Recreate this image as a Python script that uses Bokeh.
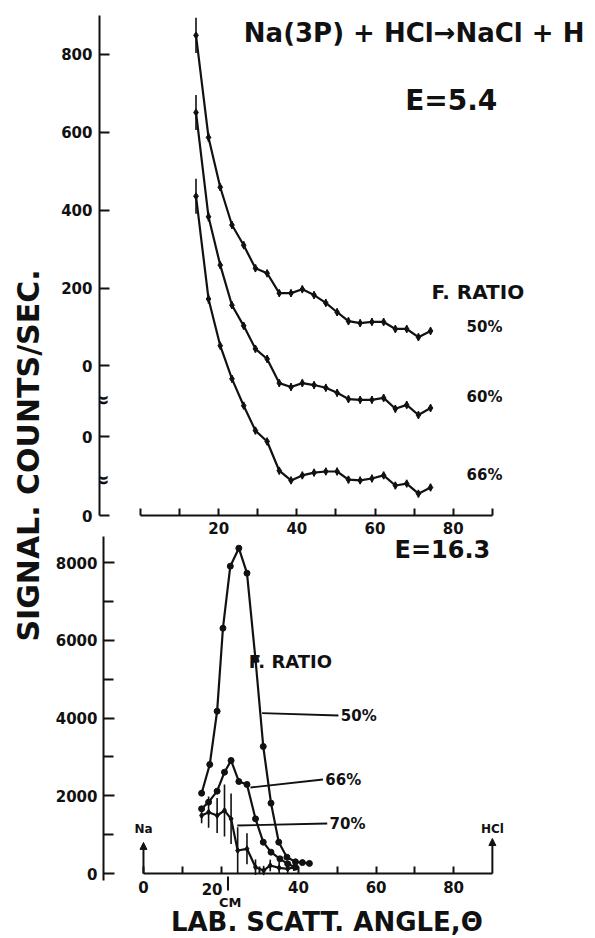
import math
from bokeh.plotting import figure
from bokeh.models import Range1d, FixedTicker, Label, Arrow, NormalHead
from bokeh.layouts import row, column
from bokeh.embed import file_html
from bokeh.resources import INLINE

FONT = "DejaVu Sans"
INK = "#111111"

# ---------------- top panel (E = 5.4) ----------------
angle_top = [14.2, 17.4, 20.4, 23.4, 26.4, 29.4, 32.4, 35.5, 38.5, 41.4, 44.4,
             47.4, 50.3, 53.2, 56.2, 59.2, 62.2, 65.2, 68.1, 71.1, 74.2]
sig50_top = [849, 587, 459, 362, 310, 251, 238, 187, 187, 197, 182,
             162, 138, 115, 110, 113, 113, 95, 95, 74, 90]
sig60_top = [833, 565, 441, 338, 285, 226, 200, 138, 128, 138, 133,
             126, 113, 97, 95, 95, 100, 72, 82, 56, 74]
sig66_top = [820, 556, 436, 351, 282, 218, 190, 115, 90, 103, 110,
             113, 113, 92, 90, 95, 103, 77, 82, 56, 72]
err_top = [45, 12, 10, 10, 10, 10, 10, 10, 10, 10, 10,
           10, 10, 10, 10, 10, 10, 10, 10, 10, 10]
offset_top = [0, -182, -384]          # baseline of each stacked curve
ratio_top = ["50%", "60%", "66%"]
ytick_top = [800, 600, 400, 200, 0, -182, -384]
ytick_top_labels = ["800", "600", "400", "200", "0", "0", "0"]

# ---------------- bottom panel (E = 16.3) ----------------
angle_50 = [15.0, 17.1, 19.0, 20.5, 22.4, 24.6, 26.7, 28.9, 30.9, 32.9, 34.9, 37.0, 39.2, 41.0, 42.8]
sig_50 = [2066, 2804, 4175, 6310, 7905, 8368, 7725, 5505, 3267, 1810, 806, 420, 300, 280, 260]
angle_66 = [15.0, 16.8, 19.0, 20.9, 22.6, 24.6, 26.7, 28.9, 30.9, 32.9, 35.2, 37.2, 39.2]
sig_66 = [1664, 1835, 2118, 2606, 2907, 2367, 2290, 1406, 806, 549, 377, 249, 163]
angle_70 = [15.0, 16.8, 19.0, 20.9, 22.6, 24.3, 26.7, 28.9, 31.0, 32.7, 35.0, 37.2, 38.8]
sig_70 = [1492, 1578, 1492, 1620, 1406, 592, 635, 163, 77, 206, 146, 120, 163]
err_70 = [200, 400, 450, 670, 650, 600, 400, 200, 120, 150, 150, 120, 100]
leader_x0 = [30.6, 27.6, 24.2]
leader_y0 = [4123, 2212, 1235]
leader_x1 = [50.3, 46.3, 47.4]
leader_y1 = [4064, 2418, 1286]
leader_labels = ["50%", "66%", "70%"]
cm_angle = 21.8


def style_axis(ax, size="15px"):
    ax.axis_line_width = 2
    ax.axis_line_color = INK
    ax.major_tick_line_width = 2
    ax.minor_tick_line_width = 2
    ax.major_tick_line_color = INK
    ax.minor_tick_line_color = INK
    ax.major_tick_out = 0
    ax.minor_tick_out = 0
    ax.major_label_text_font = FONT
    ax.major_label_text_font_style = "bold"
    ax.major_label_text_font_size = size
    ax.major_label_text_color = INK


def txt(p, x, y, s, size, align="center", angle=0.0):
    p.add_layout(Label(x=x, y=y, text=s, text_font=FONT,
                       text_font_style="bold", text_font_size=size, text_color=INK,
                       text_align=align, text_baseline="middle", angle=angle))


# ---- label column ----
lab = figure(width=52, height=938, x_range=Range1d(0, 52), y_range=Range1d(938, 0),
             x_axis_location=None, y_axis_location=None, output_backend="svg",
             toolbar_location=None, min_border=0, frame_align=False)
lab.outline_line_color = None
lab.xgrid.visible = False
lab.ygrid.visible = False
txt(lab, 27.5, 455, "SIGNAL. COUNTS/SEC.", "30px", angle=math.pi / 2)

# ---- top figure ----
top = figure(width=543, height=536, x_range=Range1d(-10.49, 116.4), y_range=Range1d(-384, 900),
             output_backend="svg", toolbar_location=None, frame_align=False,
             min_border_left=47, min_border_right=0, min_border_top=15, min_border_bottom=20)
top.outline_line_color = None
top.xgrid.visible = False
top.ygrid.visible = False
style_axis(top.xaxis[0])
style_axis(top.yaxis[0])
top.xaxis[0].bounds = (0, 90)
top.xaxis[0].ticker = FixedTicker(ticks=[20, 40, 60, 80], minor_ticks=[0, 10, 30, 50, 70, 90])
top.xaxis[0].major_tick_in = 7
top.xaxis[0].minor_tick_in = 7
top.xaxis[0].major_label_standoff = 6
top.yaxis[0].ticker = FixedTicker(ticks=ytick_top, minor_ticks=[])
top.yaxis[0].major_label_overrides = {t: s for t, s in zip(ytick_top, ytick_top_labels)}
top.yaxis[0].major_tick_in = 10
top.yaxis[0].major_label_standoff = 7

for sig, off in zip([sig50_top, sig60_top, sig66_top], offset_top):
    y = [off + v for v in sig]
    top.line(angle_top, y, line_width=2.2, color=INK)
    top.segment(angle_top, [a - e for a, e in zip(y, err_top)],
                angle_top, [a + e for a, e in zip(y, err_top)], line_width=1.6, color=INK)
    top.scatter(angle_top, y, marker="diamond", size=7, color=INK)

for off, r in zip(offset_top, ratio_top):
    txt(top, 88.0, off + 100 + (3 if off else 0), r, "15px")

txt(top, 70.0, 854, "Na(3P) + HCl\u2192NaCl + H", "26px")
txt(top, 79.5, 682, "E=5.4", "28px")
txt(top, 86.3, 190, "F. RATIO", "20px")
for yb in [-87, -292]:
    txt(top, -10.2, yb, "\u2248", "22px")

# ---- bottom figure ----
bot = figure(width=543, height=402, x_range=Range1d(-10.31, 116.6), y_range=Range1d(-1672, 8669),
             output_backend="svg", toolbar_location=None, frame_align=False,
             min_border_left=51, min_border_right=0, min_border_top=0, min_border_bottom=0)
bot.outline_line_color = None
bot.xgrid.visible = False
bot.ygrid.visible = False
style_axis(bot.xaxis[0])
style_axis(bot.yaxis[0])
bot.xaxis[0].fixed_location = 0
bot.xaxis[0].bounds = (0, 90)
bot.xaxis[0].ticker = FixedTicker(ticks=[0, 20, 40, 60, 80], minor_ticks=[10, 30, 50, 70])
bot.xaxis[0].major_label_overrides = {20: ""}
bot.xaxis[0].major_tick_in = 7
bot.xaxis[0].minor_tick_in = 7
bot.xaxis[0].major_label_standoff = 7
bot.yaxis[0].bounds = (-180, 8669)
bot.yaxis[0].ticker = FixedTicker(ticks=[0, 2000, 4000, 6000, 8000], minor_ticks=[1000, 3000, 5000, 7000])
bot.yaxis[0].major_tick_in = 11
bot.yaxis[0].minor_tick_in = 10
bot.yaxis[0].major_label_standoff = 6

bot.line(angle_50, sig_50, line_width=2.2, color=INK)
bot.scatter(angle_50, sig_50, marker="circle", size=6, color=INK)
bot.line(angle_66, sig_66, line_width=2.2, color=INK)
bot.scatter(angle_66, sig_66, marker="circle", size=6, color=INK)
bot.line(angle_70, sig_70, line_width=2.2, color=INK)
bot.segment(angle_70, [a - e for a, e in zip(sig_70, err_70)],
            angle_70, [a + e for a, e in zip(sig_70, err_70)], line_width=1.6, color=INK)
bot.scatter(angle_70, sig_70, marker="diamond", size=6, color=INK)

bot.segment(leader_x0, leader_y0, leader_x1, leader_y1, line_width=1.8, color=INK)
for x1, y1, s in zip(leader_x1, leader_y1, leader_labels):
    txt(bot, x1 + 0.6, y1, s, "15px", align="left")

txt(bot, 37.9, 5453, "F. RATIO", "18px")
txt(bot, 77.1, 8309, "E=16.3", "24px")

for xa, ya, s in [(0, 800, "Na"), (90, 900, "HCl")]:
    bot.add_layout(Arrow(end=NormalHead(size=7, fill_color=INK, line_color=INK),
                         x_start=xa, y_start=0, x_end=xa, y_end=ya, line_width=2, line_color=INK))
    txt(bot, xa, 1140, s, "12px")

bot.segment([cm_angle], [-77], [cm_angle], [-437], line_width=2, color=INK)
txt(bot, 17.7, -399, "20", "15px")
txt(bot, 22.4, -746, "CM", "13px")
txt(bot, 47.3, -1250, "LAB. SCATT. ANGLE,\u0398", "26px")

layout = row(lab, column(top, bot))
open("out.html", "w").write(file_html(layout, INLINE))
